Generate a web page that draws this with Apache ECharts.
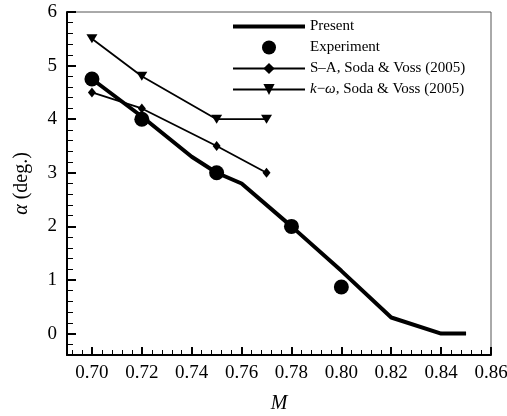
<!DOCTYPE html>
<html>
<head>
<meta charset="utf-8">
<script src="https://cdn.jsdelivr.net/npm/echarts@6/dist/echarts.min.js"></script>
<style>html,body{margin:0;padding:0;background:#fff;}#c{width:507px;height:416px;}</style>
</head>
<body>
<div id="c"></div>
<script>
// Data
const presentM     = [0.70, 0.72, 0.74, 0.75, 0.76, 0.78, 0.80, 0.82, 0.84, 0.85];
const presentAlpha = [4.75, 4.05, 3.30, 3.00, 2.80, 2.00, 1.17, 0.30, 0.00, 0.00];
const expM         = [0.70, 0.72, 0.75, 0.78, 0.80];
const expAlpha     = [4.75, 4.00, 3.00, 2.00, 0.87];
const saM          = [0.70, 0.72, 0.75, 0.77];
const saAlpha      = [4.50, 4.20, 3.50, 3.00];
const kwM          = [0.70, 0.72, 0.75, 0.77];
const kwAlpha      = [5.50, 4.80, 4.00, 4.00];
const xMajorTicks  = [0.70, 0.72, 0.74, 0.76, 0.78, 0.80, 0.82, 0.84, 0.86];
const yMajorTicks  = [0, 1, 2, 3, 4, 5, 6];
const seriesNames  = ['Present', 'Experiment', 'S\u2013A, Soda & Voss (2005)', 'k\u2212\u03c9, Soda & Voss (2005)'];

const xMinorTicks = [];
for (let k = 0; k <= 42; k++) xMinorTicks.push(Math.round((0.692 + 0.004 * k) * 1000) / 1000);
const yMinorTicks = [];
for (let k = 0; k <= 32; k++) yMinorTicks.push(Math.round((-0.4 + 0.2 * k) * 10) / 10);

const zip = (a, b) => a.map((v, i) => [v, b[i]]);
const FONT = 'Liberation Serif';

const chart = echarts.init(document.getElementById('c'), null, {renderer: 'canvas'});
chart.setOption({
  animation: false,
  backgroundColor: '#fff',
  grid: {left: 67, right: 16, top: 12, bottom: 61, show: true, borderColor: '#555', borderWidth: 1,
         backgroundColor: 'transparent', containLabel: false, outerBoundsMode: 'none'},
  legend: {
    orient: 'vertical', left: 231, top: 19, padding: 0,
    itemWidth: 72, itemHeight: 14, itemGap: 6,
    data: [
      {name: seriesNames[0], itemStyle: {opacity: 0}, lineStyle: {width: 4, color: '#000'}},
      {name: seriesNames[1]},
      {name: seriesNames[2], lineStyle: {width: 2, color: '#000'}},
      {name: seriesNames[3], lineStyle: {width: 2, color: '#000'}}
    ],
    textStyle: {fontFamily: FONT, fontSize: 15, color: '#000', lineHeight: 14,
      rich: {i: {fontFamily: FONT, fontSize: 15, fontStyle: 'italic', color: '#000', lineHeight: 14},
             n: {fontFamily: FONT, fontSize: 15, color: '#000', lineHeight: 14}}},
    formatter: function (name) {
      if (name === seriesNames[3]) return '{i|k}{n|\u2212}{i|\u03c9}{n|, Soda & Voss (2005)}';
      return name;
    }
  },
  xAxis: [{
    type: 'value', min: 0.69, max: 0.86,
    name: 'M', nameLocation: 'middle', nameGap: 39,
    nameTextStyle: {fontFamily: FONT, fontSize: 20, fontStyle: 'italic', color: '#000'},
    axisLine: {onZero: false, lineStyle: {color: '#000', width: 2}},
    axisTick: {inside: true, length: 8, customValues: xMajorTicks, lineStyle: {color: '#000', width: 2}},
    axisLabel: {customValues: xMajorTicks, margin: 9, fontFamily: FONT, fontSize: 19, color: '#000',
      formatter: v => v.toFixed(2)},
    splitLine: {show: false}
  }, {
    type: 'value', min: 0.69, max: 0.86, position: 'bottom', gridIndex: 0,
    axisLine: {show: false, onZero: false},
    axisTick: {inside: true, length: 5, customValues: xMinorTicks, lineStyle: {color: '#000', width: 1}},
    axisLabel: {show: false},
    splitLine: {show: false}
  }],
  yAxis: [{
    type: 'value', min: -0.4, max: 6,
    name: '{i|\u03b1} (deg.)', nameLocation: 'middle', nameGap: 35, nameRotate: 90,
    nameTextStyle: {fontFamily: FONT, fontSize: 20, color: '#000',
      rich: {i: {fontFamily: FONT, fontSize: 20, fontStyle: 'italic', color: '#000'}}},
    axisLine: {onZero: false, lineStyle: {color: '#000', width: 2}},
    axisTick: {inside: true, length: 9, customValues: yMajorTicks, lineStyle: {color: '#000', width: 2}},
    axisLabel: {customValues: yMajorTicks, margin: 10, fontFamily: FONT, fontSize: 19, color: '#000'},
    splitLine: {show: false}
  }, {
    type: 'value', min: -0.4, max: 6, position: 'left', gridIndex: 0,
    axisLine: {show: false, onZero: false},
    axisTick: {inside: true, length: 6, customValues: yMinorTicks, lineStyle: {color: '#000', width: 1}},
    axisLabel: {show: false},
    splitLine: {show: false}
  }],
  series: [{
    name: seriesNames[0], type: 'line', data: zip(presentM, presentAlpha),
    symbol: 'none', lineStyle: {color: '#000', width: 4}, itemStyle: {color: '#000'}, z: 3
  }, {
    name: seriesNames[1], type: 'scatter', data: zip(expM, expAlpha),
    symbol: 'circle', symbolSize: 15, itemStyle: {color: '#000', opacity: 1}, z: 4
  }, {
    name: seriesNames[2], type: 'line', data: zip(saM, saAlpha),
    symbol: 'diamond', symbolSize: [8, 10], showAllSymbol: true,
    lineStyle: {color: '#000', width: 1.8}, itemStyle: {color: '#000'}, z: 2
  }, {
    name: seriesNames[3], type: 'line', data: zip(kwM, kwAlpha),
    symbol: 'path://M0,0L10,0L5,9Z', symbolSize: [11, 9], showAllSymbol: true,
    lineStyle: {color: '#000', width: 1.8}, itemStyle: {color: '#000'}, z: 2
  }]
});
</script>
</body>
</html>
